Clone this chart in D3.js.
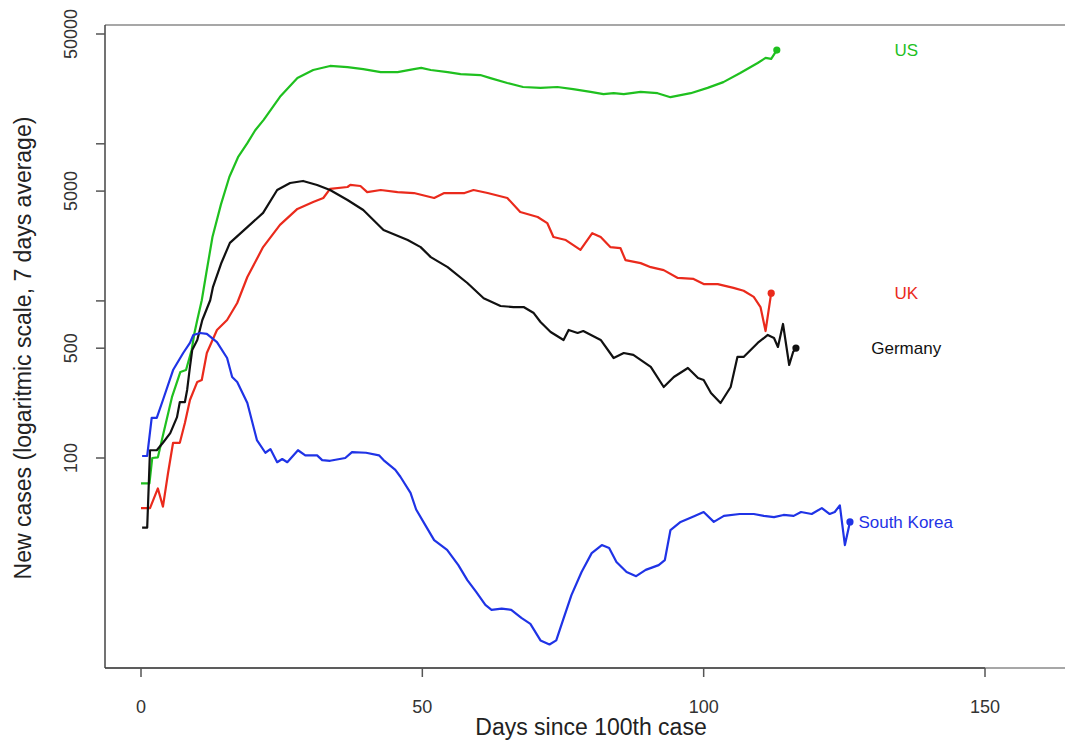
<!DOCTYPE html>
<html>
<head>
<meta charset="utf-8">
<script src="https://cdn.jsdelivr.net/npm/d3@7"></script>
<style>
  html, body { margin: 0; padding: 0; background: #fff; }
  svg { display: block; font-family: "Liberation Sans", Arial, Helvetica, sans-serif; }
</style>
</head>
<body>
<svg id="chart" width="1065" height="740"></svg>
<script>
// ---- data: [day since 100th case, new cases (7-day average)] ----
const usData = [
  [0, 69], [1.5, 69], [2, 100], [3, 101], [4, 144], [5.5, 244], [7, 353], [8, 363],
  [9, 487], [9.5, 625], [10, 756], [10.8, 1010], [11.6, 1500], [12.7, 2550],
  [14.2, 4100], [15.7, 6150], [17.3, 8300], [18.9, 10100], [20.3, 12200],
  [21.8, 14200], [24.7, 19900], [27.8, 26200], [30.6, 29500],
  [33.6, 31300], [36.7, 30800], [39.5, 29900], [42.6, 28600], [45.6, 28600],
  [48.5, 29900], [49.8, 30400], [51.5, 29500], [54.5, 28600], [56.8, 27800],
  [60.3, 27400], [62.1, 26200], [65.1, 24400], [67.9, 23000], [71, 22700],
  [74, 23000], [76.8, 22300], [79.9, 21400], [82.2, 20700], [84, 21000],
  [85.8, 20700], [88.8, 21400], [91.8, 21000], [94.1, 19800], [97.7, 21000],
  [100.7, 22700], [103.5, 24700], [106.5, 28200], [109.6, 32700], [111, 35200],
  [112, 34700], [113, 39500]
];
const ukData = [
  [0, 48], [1.6, 48], [3, 64], [3.9, 49], [4.8, 80], [5.7, 125], [6.9, 125],
  [7.8, 167], [8.7, 234], [10, 305], [10.8, 314], [11.7, 466], [13.5, 653],
  [15.3, 756], [17.1, 970], [18.9, 1420], [21.7, 2200], [24.7, 3050],
  [27.8, 3850], [30.6, 4260], [32.4, 4520], [33.6, 5160], [36.7, 5310],
  [37.2, 5470], [39, 5390], [40.2, 4930], [42.6, 5080], [45.6, 4930],
  [48.5, 4860], [52.1, 4520], [53.9, 4860], [57.5, 4860], [59.1, 5080],
  [61.6, 4860], [65.1, 4520], [67.4, 3680], [70.5, 3420], [72.2, 3130],
  [73.3, 2550], [75.5, 2440], [78.1, 2110], [80.2, 2700], [81.7, 2550],
  [83.4, 2200], [85.2, 2170], [86.1, 1820], [88.8, 1740], [90.6, 1640],
  [92.9, 1570], [95.4, 1400], [98.2, 1380], [100, 1280], [102.5, 1280],
  [105.3, 1210], [107.1, 1160], [108.9, 1060], [110.1, 914], [111, 643],
  [112, 1120]
];
const germanyData = [
  [0.2, 36], [1.1, 36], [1.6, 112], [2.8, 112], [3.9, 125], [5.2, 144],
  [6.4, 182], [6.9, 227], [7.8, 227], [8.2, 271], [8.7, 380], [9.1, 487],
  [10, 564], [10.9, 756], [12.3, 1010], [12.8, 1230], [14.3, 1750], [15.8, 2340],
  [18.9, 2950], [21.7, 3630], [24.2, 5080], [26.5, 5630], [28.8, 5800],
  [31.3, 5470], [33.6, 5080], [36.7, 4390], [39.5, 3790], [43.1, 2830],
  [47.4, 2440], [49.7, 2200], [51.5, 1900], [54.5, 1640], [58, 1300],
  [60.9, 1040], [63.9, 928], [66.2, 914], [68, 914], [69.8, 837], [71, 734],
  [72.8, 634], [75.1, 564], [76, 653], [77.6, 625], [78.6, 643], [81.7, 564],
  [84, 433], [85.8, 466], [87.5, 453], [90.6, 380], [92.9, 283], [94.7, 328],
  [97.2, 374], [99, 323], [100, 314], [101.3, 259], [103, 224], [104.8, 283],
  [106, 440], [107.1, 440], [109.6, 540], [111.4, 607], [112.5, 581],
  [113.2, 509], [114.1, 713], [115.2, 391], [115.9, 473], [116.4, 501]
];
const koreaData = [
  [0.2, 103], [1.1, 103], [1.9, 180], [2.8, 180], [3.9, 234], [5.7, 363],
  [7.5, 466], [8.7, 540], [9.3, 607], [10.5, 625], [11.7, 617], [13.5, 547],
  [15.3, 433], [16.2, 328], [17.1, 305], [18.9, 224], [20.6, 130], [22.1, 108],
  [23, 114], [24.2, 94], [25.1, 98.5], [26, 94], [27.9, 112], [29.2, 104],
  [31.3, 104], [32.2, 97], [33.6, 96], [36.3, 100], [37.5, 109], [40, 108],
  [42.3, 104], [43.1, 97], [45.2, 84], [46.1, 76], [47.9, 60], [48.9, 47],
  [50.5, 37.5], [52.1, 30], [54.4, 26], [56.4, 20.8], [58, 16.7], [59.6, 14],
  [61.2, 11.6], [62.3, 10.8], [64.1, 11], [65.8, 10.8], [67.6, 9.6],
  [69.2, 8.8], [71, 6.9], [72.6, 6.5], [73.8, 6.9], [75, 9.3], [76.5, 13.4],
  [78.3, 18.8], [80.1, 24.8], [81.9, 27.9], [83.2, 26.7], [84.5, 21.8],
  [86.3, 18.8], [88, 17.7], [89.7, 19.4], [92, 20.8], [93.1, 22.4],
  [94.1, 34.8], [95.9, 39.2], [98.4, 42.8], [100, 45.3], [101.8, 39.2],
  [103.6, 42.8], [106.4, 44], [108.9, 44], [110.7, 42.8], [112.5, 42],
  [114.2, 43.4], [116, 42.8], [117.3, 45.3], [119.2, 44], [121, 48],
  [122.4, 44], [123.3, 45.3], [124.2, 50], [125.1, 27.9], [126, 39.2]
];
const countries = ["US", "UK", "Germany", "South Korea"];
const xTicks = [0, 50, 100, 150];
const yTicks = [100, 500, 1000, 5000, 10000, 50000];
const yTickLabels = ["100", "500", "", "5000", "", "50000"];
const labelDay = [136, 136, 136, 127.5];

// ---- styling / layout ----
const colors = { "US": "#1fc01f", "UK": "#ea2a1c", "Germany": "#111111", "South Korea": "#1f33e6" };
const series = { "US": usData, "UK": ukData, "Germany": germanyData, "South Korea": koreaData };

const svg = d3.select("#chart");
const boxL = 105, boxT = 25, boxB = 668, boxR = 1075;

const x = d3.scaleLinear().domain([0, 150]).range([141, 985]);
const y = d3.scaleLog().domain([100, 50000]).range([458, 34]);

// box
svg.append("line").attr("x1", boxL).attr("x2", boxR).attr("y1", boxT).attr("y2", boxT)
  .attr("stroke", "#8a8a8a").attr("stroke-width", 1.5);
svg.append("line").attr("x1", boxL).attr("x2", boxR).attr("y1", boxB).attr("y2", boxB)
  .attr("stroke", "#8a8a8a").attr("stroke-width", 1.5);
svg.append("line").attr("x1", boxL).attr("x2", boxL).attr("y1", boxT).attr("y2", boxB)
  .attr("stroke", "#444").attr("stroke-width", 1.5);
svg.append("line").attr("x1", boxL).attr("x2", x(150)).attr("y1", boxB).attr("y2", boxB)
  .attr("stroke", "#444").attr("stroke-width", 1.5);

// x axis ticks
const xg = svg.append("g");
xg.selectAll("line").data(xTicks).join("line")
  .attr("x1", d => x(d)).attr("x2", d => x(d))
  .attr("y1", boxB).attr("y2", boxB + 9)
  .attr("stroke", "#555").attr("stroke-width", 1.5);
xg.selectAll("text").data(xTicks).join("text")
  .attr("x", d => x(d)).attr("y", 713)
  .attr("text-anchor", "middle").attr("font-size", 18).attr("fill", "#333")
  .text(d => d);

// y axis ticks
const yg = svg.append("g");
yg.selectAll("line").data(yTicks).join("line")
  .attr("x1", boxL - 9).attr("x2", boxL)
  .attr("y1", d => y(d)).attr("y2", d => y(d))
  .attr("stroke", "#555").attr("stroke-width", 1.5);
yg.selectAll("text").data(yTicks).join("text")
  .attr("transform", d => `translate(77,${y(d)}) rotate(-90)`)
  .attr("text-anchor", "middle").attr("font-size", 18).attr("fill", "#333")
  .text((d, i) => yTickLabels[i]);

// axis titles
svg.append("text").attr("x", 591).attr("y", 735).attr("text-anchor", "middle")
  .attr("font-size", 23).attr("fill", "#222").text("Days since 100th case");
svg.append("text").attr("transform", "translate(31,348) rotate(-90)")
  .attr("text-anchor", "middle").attr("font-size", 23).attr("fill", "#222")
  .text("New cases (logaritmic scale, 7 days average)");

// lines
const line = d3.line().x(d => x(d[0])).y(d => y(d[1]));
countries.forEach((c, i) => {
  const data = series[c];
  svg.append("path").datum(data).attr("d", line)
    .attr("fill", "none").attr("stroke", colors[c]).attr("stroke-width", 2.2)
    .attr("stroke-linejoin", "round");
  const last = data[data.length - 1];
  svg.append("circle").attr("cx", x(last[0])).attr("cy", y(last[1])).attr("r", 3.6)
    .attr("fill", colors[c]);
  svg.append("text")
    .attr("x", x(labelDay[i])).attr("y", y(last[1]) + 6)
    .attr("font-size", 17).attr("fill", colors[c])
    .attr("text-anchor", c === "South Korea" ? "start" : "middle")
    .text(c);
});
</script>
</body>
</html>
